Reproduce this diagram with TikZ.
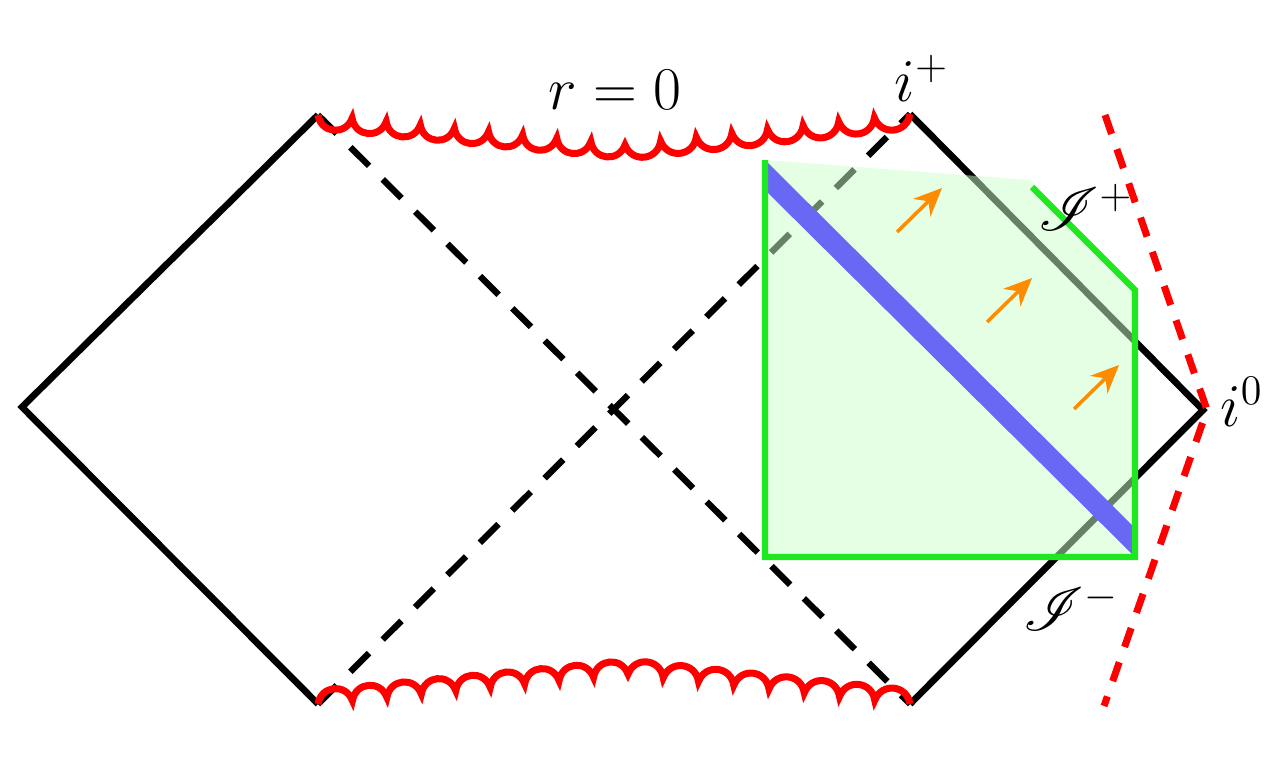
\documentclass[tikz,border=0pt]{standalone}
\usepackage{amsmath, amssymb}
\usepackage{mathrsfs}
\usepackage{xcolor}
\usepackage{tikz}
\usetikzlibrary{calc, arrows.meta}

\definecolor{horgreen}{RGB}{30,232,30}
\definecolor{shellblue}{RGB}{104,104,245}
\definecolor{fluxorange}{RGB}{255,140,0}

\begin{document}
\begin{tikzpicture}[y=-1cm, >=stealth,
    edge/.style={line width=1.9pt},
    horizon/.style={line width=1.8pt, dash pattern=on 7.5pt off 5.5pt},
    sing/.style={red, line width=2pt},
    bdry/.style={horgreen, line width=1.8pt},
    flux/.style={fluxorange, line width=1pt, -{Stealth[length=8pt, width=7pt]}},
    lbl/.style={font=\LARGE}]

    \useasboundingbox (0,0) rectangle (12.8,7.71);

    % =================================================================
    % 1. CÁC ĐỈNH CỦA GIẢN ĐỒ PENROSE
    % =================================================================
    \coordinate (L)  at (0.22,4.07);
    \coordinate (TL) at (3.18,1.15);
    \coordinate (TR) at (9.10,1.14);
    \coordinate (R)  at (12.03,4.10);
    \coordinate (BR) at (9.10,7.04);
    \coordinate (BL) at (3.18,7.04);
    \coordinate (TM) at (6.25,1.45);
    \coordinate (BM) at (6.28,6.74);

    % Biên ngoài và hai chân trời (nét đứt)
    \draw[edge] (TL) -- (L) -- (BL);
    \draw[edge] (TR) -- (R) -- (BR);
    \draw[horizon] (TL) -- (BR);
    \draw[horizon] (BL) -- (TR);

    % =================================================================
    % 2. KỲ DỊ r = 0 (ĐƯỜNG GỢN SÓNG)
    % =================================================================
    \draw[sing] (TL)
        foreach \k in {1,...,9} { to[bend right=75, looseness=1.4] ($(TL)!\k/9!(TM)$) }
        foreach \k in {1,...,8} { to[bend right=75, looseness=1.4] ($(TM)!\k/8!(TR)$) };
    \draw[sing] (BL)
        foreach \k in {1,...,9} { to[bend left=75, looseness=1.4] ($(BL)!\k/9!(BM)$) }
        foreach \k in {1,...,8} { to[bend left=75, looseness=1.4] ($(BM)!\k/8!(BR)$) };

    % =================================================================
    % 3. MIỀN TÔ MÀU, VỎ VẬT CHẤT VÀ CÁC MŨI TÊN
    % =================================================================
    \coordinate (G1) at (7.65,1.60);
    \coordinate (G2) at (10.32,1.87);
    \coordinate (G3) at (11.35,2.90);
    \coordinate (G4) at (11.35,5.57);
    \coordinate (G5) at (7.65,5.57);

    \fill[green!20, opacity=0.5] (G1) -- (10.30,1.80) -- (G3) -- (G4) -- (G5) -- cycle;
    \fill[shellblue] (G1) -- ($(G4)+(0,-0.29)$) -- (G4) -- ($(G1)+(0,0.30)$) -- cycle;
    \draw[bdry] (G2) -- (G3) -- (G4) -- (G5) -- (G1);

    \foreach \x/\y in {8.97/2.32, 9.87/3.22, 10.74/4.09}
        \draw[flux] (\x,\y) -- ++(0.45,-0.44);

    % Đường r = hằng số (nét đứt đỏ)
    \coordinate (Vt) at (11.05,1.15);
    \coordinate (Vb) at (11.04,7.06);
    \draw[red, line width=2pt, dash pattern=on 5.7pt off 4.6pt] (Vt) -- ($(R)+(0.04,0)$) -- (Vb);

    % =================================================================
    % 4. NHÃN
    % =================================================================
    \node[lbl] (r0)   at (6.15,0.90) {$r=0$};
    \node[lbl] (ip)   at (9.22,0.78) {$i^+$};
    \node[lbl] (i0)   at (12.42,4.02) {$i^0$};
    \node[lbl] (scrp) at (10.86,2.07) {$\mathscr{I}^+$};
    \node[lbl] (scrm) at (10.71,6.07) {$\mathscr{I}^-$};

\end{tikzpicture}
\end{document}
